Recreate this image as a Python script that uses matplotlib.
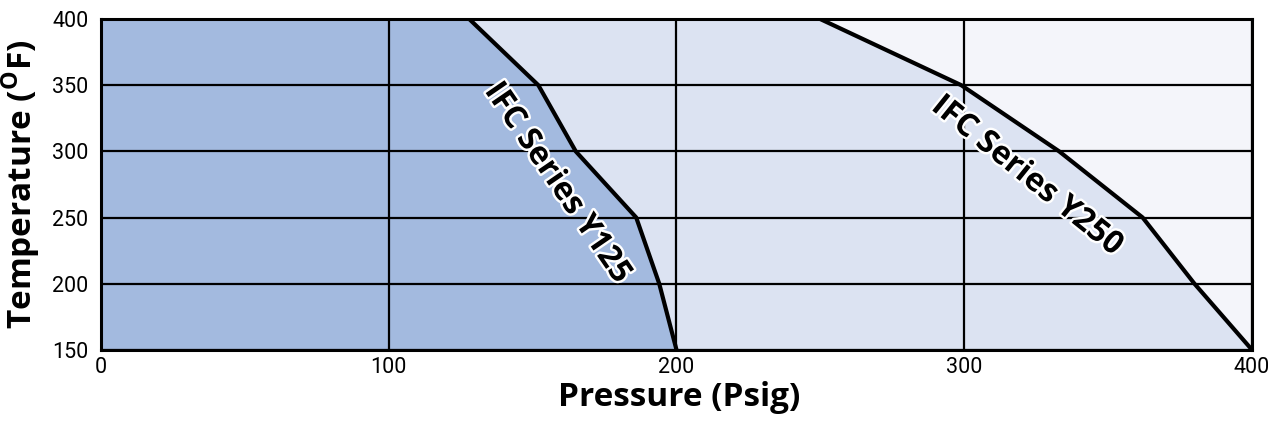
import matplotlib
matplotlib.use("Agg")
import matplotlib.pyplot as plt
import matplotlib.patheffects as pe

# Data
y125_pressure = [128, 152, 165, 186, 194, 200]
y125_temp = [400, 350, 300, 250, 200, 150]
y250_pressure = [250, 299, 333, 362, 380, 400]
y250_temp = [400, 350, 300, 250, 200, 150]
x_ticks = [0, 100, 200, 300, 400]
y_ticks = [150, 200, 250, 300, 350, 400]
label_y125 = "IFC Series Y125"
label_y250 = "IFC Series Y250"

fig = plt.figure(figsize=(12.77, 4.34), dpi=100)
ax = fig.add_axes([0.0791, 0.194, 0.9013, 0.762])
ax.set_xlim(0, 400)
ax.set_ylim(150, 400)

ax.set_facecolor("#f4f5fa")
ax.fill_betweenx(y250_temp, 0, y250_pressure, color="#dce3f2", zorder=1, lw=0)
ax.fill_betweenx(y125_temp, 0, y125_pressure, color="#a3badf", zorder=1.5, lw=0)

for x in x_ticks:
    ax.axvline(x, color="black", lw=1.6, zorder=2)
for y in y_ticks:
    ax.axhline(y, color="black", lw=1.6, zorder=2)

ax.plot(y125_pressure, y125_temp, color="black", lw=3.0, zorder=3, solid_capstyle="butt")
ax.plot(y250_pressure, y250_temp, color="black", lw=3.0, zorder=3, solid_capstyle="butt")

for s in ax.spines.values():
    s.set_linewidth(2.2)
    s.set_color("black")

ax.set_xticks(x_ticks)
ax.set_yticks(y_ticks)
ax.tick_params(length=0, labelsize=15.5)
ax.tick_params(axis="x", pad=5)
ax.tick_params(axis="y", pad=9)
for lab in ax.get_xticklabels() + ax.get_yticklabels():
    lab.set_family("Roboto")

ax.set_xlabel("Pressure (Psig)", fontsize=24, fontweight="bold", family="Open Sans", va="center")
ax.xaxis.set_label_coords(0.502, -0.145)
ax.set_ylabel("Temperature ($^{\\mathregular{O}}$F)", fontsize=24, fontweight="bold", family="Open Sans", va="center")
ax.yaxis.set_label_coords(-0.069, 0.5)

stroke = [pe.withStroke(linewidth=3.5, foreground="white")]
ax.text(158.7, 276, label_y125, rotation=-55.6, fontsize=23, fontweight="bold", family="Open Sans",
        ha="center", va="center", zorder=4, path_effects=stroke, rotation_mode="anchor")
ax.text(321.9, 281.4, label_y250, rotation=-38.8, fontsize=23, fontweight="bold", family="Open Sans",
        ha="center", va="center", zorder=4, path_effects=stroke, rotation_mode="anchor")

fig.savefig("out.png", dpi=100)
